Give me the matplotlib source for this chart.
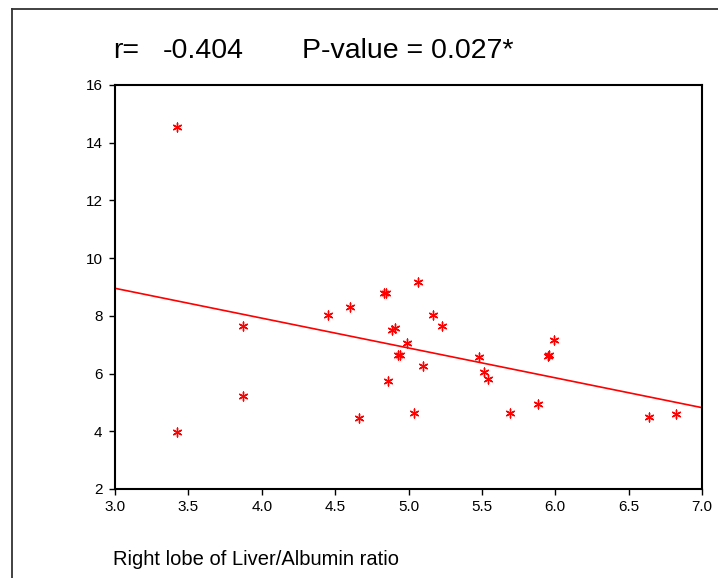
import matplotlib.pyplot as plt
import numpy as np
from matplotlib.lines import Line2D

plt.rcParams['font.family'] = ['Liberation Sans', 'DejaVu Sans']

# ratio (x) and value (y)
liver_alb_ratio = [3.42, 3.42, 3.87, 3.87, 4.45, 4.60, 4.66, 4.83, 4.85,
                   4.89, 4.91, 4.86, 4.93, 4.94, 4.99, 5.04, 5.065, 5.10,
                   5.17, 5.23, 5.48, 5.515, 5.54, 5.69, 5.88, 5.95, 5.96,
                   5.99, 6.64, 6.82]
values = [14.55, 3.98, 7.65, 5.22, 8.03, 8.30, 4.45, 8.78, 8.78,
          7.52, 7.57, 5.74, 6.64, 6.66, 7.05, 4.65, 9.17, 6.26,
          8.03, 7.66, 6.59, 6.06, 5.80, 4.65, 4.96, 6.62, 6.64,
          7.16, 4.50, 4.60]

# fitted line
fit_intercept = 12.057
fit_slope = -1.034

r_value = -0.404
p_value = 0.027

fig = plt.figure(figsize=(7.18, 5.78), dpi=100)
ax = fig.add_axes([115 / 718, 1 - 489 / 578, 587 / 718, 404 / 578])

ax.scatter(liver_alb_ratio, values, marker=(6, 2, 0), s=40, color='red',
           linewidths=1.0, zorder=3)

xx = np.array([3.0, 7.0])
ax.plot(xx, fit_intercept + fit_slope * xx, color='red', lw=1.2)

ax.set_xlim(3.0, 7.0)
ax.set_ylim(2, 16)
ax.set_xticks(np.arange(3.0, 7.01, 0.5))
ax.set_xticklabels([f'{v:.1f}' for v in np.arange(3.0, 7.01, 0.5)])
ax.set_yticks(np.arange(2, 17, 2))
ax.tick_params(direction='out', length=4, width=1, labelsize=11)
ax.tick_params(axis='x', pad=4)
ax.tick_params(axis='y', pad=5)
for sp in ax.spines.values():
    sp.set_linewidth(1.5)
    sp.set_color('black')

fig.text(113 / 718, 1 - 58 / 578, 'r=', fontsize=20.5,
         va='baseline', ha='left')
fig.text(163 / 718, 1 - 58 / 578, f'{r_value:.3f}', fontsize=20.5,
         va='baseline', ha='left')
fig.text(302 / 718, 1 - 58 / 578, f'P-value = {p_value:.3f}*', fontsize=20.5,
         va='baseline', ha='left')
fig.text(113 / 718, 1 - 565 / 578, 'Right lobe of Liver/Albumin ratio',
         fontsize=14.5, va='baseline', ha='left')

# outer frame (left and top edges only visible)
fig.add_artist(Line2D([12 / 718, 12 / 718], [0, 1 - 9 / 578],
                      transform=fig.transFigure, color='#333333', lw=1.3))
fig.add_artist(Line2D([12 / 718, 1], [1 - 9 / 578, 1 - 9 / 578],
                      transform=fig.transFigure, color='#333333', lw=1.3))

fig.savefig('out.png', dpi=100)
